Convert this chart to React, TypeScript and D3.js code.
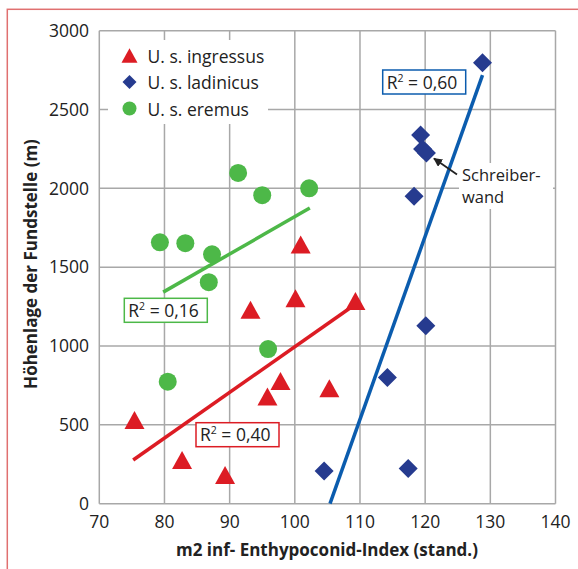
import React from 'react';
import * as d3 from 'd3';

// Data
const ingressus: [number, number][] = [
  [75.4, 520], [82.7, 266], [89.3, 171], [93.2, 1218], [95.8, 668],
  [97.8, 767], [100.1, 1292], [100.9, 1633], [105.3, 721], [109.3, 1275],
];
const ladinicus: [number, number][] = [
  [104.5, 207], [114.2, 801], [117.4, 224], [118.3, 1950], [119.3, 2338],
  [119.6, 2250], [120.2, 2225], [120.1, 1128], [128.8, 2797],
];
const eremus: [number, number][] = [
  [79.3, 1658], [80.5, 774], [83.2, 1652], [86.8, 1405], [87.3, 1582],
  [91.3, 2098], [95.0, 1957], [95.9, 981], [102.2, 2000],
];
const trendIngressus: [number, number][] = [[75.2, 277], [109.3, 1265]];
const trendLadinicus: [number, number][] = [[105.4, 0], [128.8, 2718]];
const trendEremus: [number, number][] = [[79.8, 1342], [102.3, 1875]];

const xTicks = [70, 80, 90, 100, 110, 120, 130, 140];
const yTicks = [0, 500, 1000, 1500, 2000, 2500, 3000];
const legendLabels = ['U. s. ingressus', 'U. s. ladinicus', 'U. s. eremus'];
const r2Labels = ['0,40', '0,60', '0,16'];
const noteLines = ['Schreiber-', 'wand'];

const RED = '#dc1c24';
const BLUE_M = '#263b8f';
const BLUE_L = '#0b5cae';
const GREEN = '#4db848';
const GRID = '#a8a8a8';
const FONT = '"Open Sans", "Noto Sans", sans-serif';
const FS = 17.5;

const Triangle = ({ x, y, s = 20 }: { x: number; y: number; s?: number }) => {
  const h = s * 0.9;
  return <path d={`M${x},${y - h * 0.6} L${x + s / 2},${y + h * 0.4} L${x - s / 2},${y + h * 0.4} Z`} fill={RED} />;
};
const Diamond = ({ x, y, r = 9.5 }: { x: number; y: number; r?: number }) => (
  <path d={`M${x},${y - r} L${x + r},${y} L${x},${y + r} L${x - r},${y} Z`} fill={BLUE_M} />
);

const R2Box = ({ x, y, label, color }: { x: number; y: number; label: string; color: string }) => (
  <g>
    <rect x={x} y={y} width={83} height={24} fill="#fff" stroke={color} strokeWidth={1.5} />
    <text x={x + 4} y={y + 18.5} fontSize={FS} fill="#222" fontFamily={FONT}>
      R<tspan dy={-7} fontSize={10.5}>2</tspan>
      <tspan dy={7}> = {label}</tspan>
    </text>
  </g>
);

export default function App() {
  const left = 99.3, right = 555.5, top = 30.7, bottom = 503.7;
  const x = d3.scaleLinear().domain([70, 140]).range([left, right]);
  const y = d3.scaleLinear().domain([0, 3000]).range([bottom, top]);
  const line = d3.line<[number, number]>().x(d => x(d[0])).y(d => y(d[1]));

  return (
    <svg width={578} height={569} style={{ position: 'absolute', left: 0, top: 0, background: '#fff' }}>
      {/* outer frame */}
      <rect x={7.3} y={9.3} width={600} height={600} fill="none" stroke="#e07070" strokeWidth={1.5} />

      {/* grid */}
      {xTicks.map(t => (
        <line key={`gx${t}`} x1={x(t)} x2={x(t)} y1={top} y2={bottom} stroke={GRID} strokeWidth={1.5} />
      ))}
      {yTicks.map(t => (
        <line key={`gy${t}`} x1={left} x2={right} y1={y(t)} y2={y(t)} stroke={GRID} strokeWidth={1.5} />
      ))}

      {/* legend background */}
      <rect x={108} y={40} width={160} height={84} fill="#fff" />
      {legendLabels.map((l, i) => (
        <g key={l}>
          {i === 0 && <Triangle x={129.5} y={57} s={16} />}
          {i === 1 && <Diamond x={129.5} y={82} r={7} />}
          {i === 2 && <circle cx={129.5} cy={108.5} r={7} fill={GREEN} />}
          <text x={147.5} y={62.5 + i * 26.5} fontSize={FS} fill="#222" fontFamily={FONT}>{l}</text>
        </g>
      ))}

      {/* tick labels */}
      {yTicks.map(t => (
        <text key={`ty${t}`} x={89} y={y(t) + 6.2} textAnchor="end" fontSize={FS} fill="#222" fontFamily={FONT}>{t}</text>
      ))}
      {xTicks.map(t => (
        <text key={`tx${t}`} x={x(t)} y={528} textAnchor="middle" fontSize={FS} fill="#222" fontFamily={FONT}>{t}</text>
      ))}

      {/* axis titles */}
      <text x={327} y={556} textAnchor="middle" fontSize={17} fontWeight="bold" fill="#222" fontFamily={FONT}>
        m2 inf- Enthypoconid-Index (stand.)
      </text>
      <text transform={`translate(37,264) rotate(-90)`} textAnchor="middle" fontSize={17} fontWeight="bold" fill="#222" fontFamily={FONT}>
        Höhenlage der Fundstelle (m)
      </text>

      {/* trend lines */}
      <path d={line(trendEremus) || ''} stroke={GREEN} strokeWidth={3.5} fill="none" />
      <path d={line(trendIngressus) || ''} stroke={RED} strokeWidth={3.5} fill="none" />
      <path d={line(trendLadinicus) || ''} stroke={BLUE_L} strokeWidth={3.5} fill="none" />

      {/* points */}
      {eremus.map((d, i) => <circle key={`e${i}`} cx={x(d[0])} cy={y(d[1])} r={9} fill={GREEN} />)}
      {ingressus.map((d, i) => <Triangle key={`i${i}`} x={x(d[0])} y={y(d[1])} />)}
      {ladinicus.map((d, i) => <Diamond key={`l${i}`} x={x(d[0])} y={y(d[1])} />)}

      {/* R² labels */}
      <R2Box x={196} y={422.7} label={r2Labels[0]} color={RED} />
      <R2Box x={382.7} y={70} label={r2Labels[1]} color={BLUE_L} />
      <R2Box x={124.3} y={298.3} label={r2Labels[2]} color={GREEN} />

      {/* Schreiberwand annotation */}
      <rect x={459} y={163} width={94} height={46} fill="#fff" />
      {noteLines.map((s, i) => (
        <text key={s} x={462} y={180.5 + i * 22.6} fontSize={16.5} fill="#222" fontFamily={FONT}>{s}</text>
      ))}
      <defs>
        <marker id="ah" viewBox="0 0 10 10" refX={9} refY={5} markerWidth={5} markerHeight={5} orient="auto-start-reverse">
          <path d="M0,0 L10,5 L0,10 Z" fill="#222" />
        </marker>
      </defs>
      <line x1={457} y1={174.5} x2={434} y2={158.5} stroke="#222" strokeWidth={1.8} markerEnd="url(#ah)" />
    </svg>
  );
}
